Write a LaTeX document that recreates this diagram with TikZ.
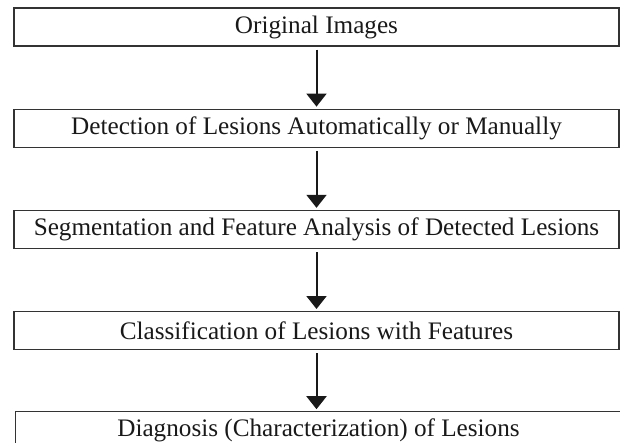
\documentclass[tikz,border=0pt]{standalone}
\usepackage{fontspec}
\setmainfont{Liberation Serif}
\usetikzlibrary{positioning,arrows.meta}

\begin{document}
\begin{tikzpicture}[
                node distance=62pt,
                stage/.style={rectangle, draw=black!80, line width=1.2pt, minimum width=605pt, minimum height=38pt, inner sep=0pt, text=black!90, font=\fontsize{25.2}{27}\selectfont},
                arrow/.style={line width=2pt, draw=black!90, -{Triangle[width=20pt,length=13pt]}, shorten <=3pt, shorten >=2pt}
            ]
                \useasboundingbox (0pt,0pt) rectangle (620pt,-442pt);
                \clip (0pt,0pt) rectangle (620pt,-442pt);
                \node[stage] (orig) at (316.5pt,-27pt) {Original Images};
                \node[stage, below=of orig] (detect) {Detection of Lesions Automatically or Manually};
                \node[stage, below=of detect] (segment) {Segmentation and Feature Analysis of Detected Lesions};
                \node[stage, below=of segment] (classify) {Classification of Lesions with Features};
                \node[stage, below=61pt of classify, xshift=2pt, minimum width=606pt] (diagnose) {Diagnosis (Characterization) of Lesions};
                
                \draw[arrow] (orig) -- (detect);
                \draw[arrow] (detect) -- (segment);
                \draw[arrow] (segment) -- (classify);
                \draw[arrow] (classify.south) -- (classify.south |- diagnose.north);
            \end{tikzpicture}
\end{document}
